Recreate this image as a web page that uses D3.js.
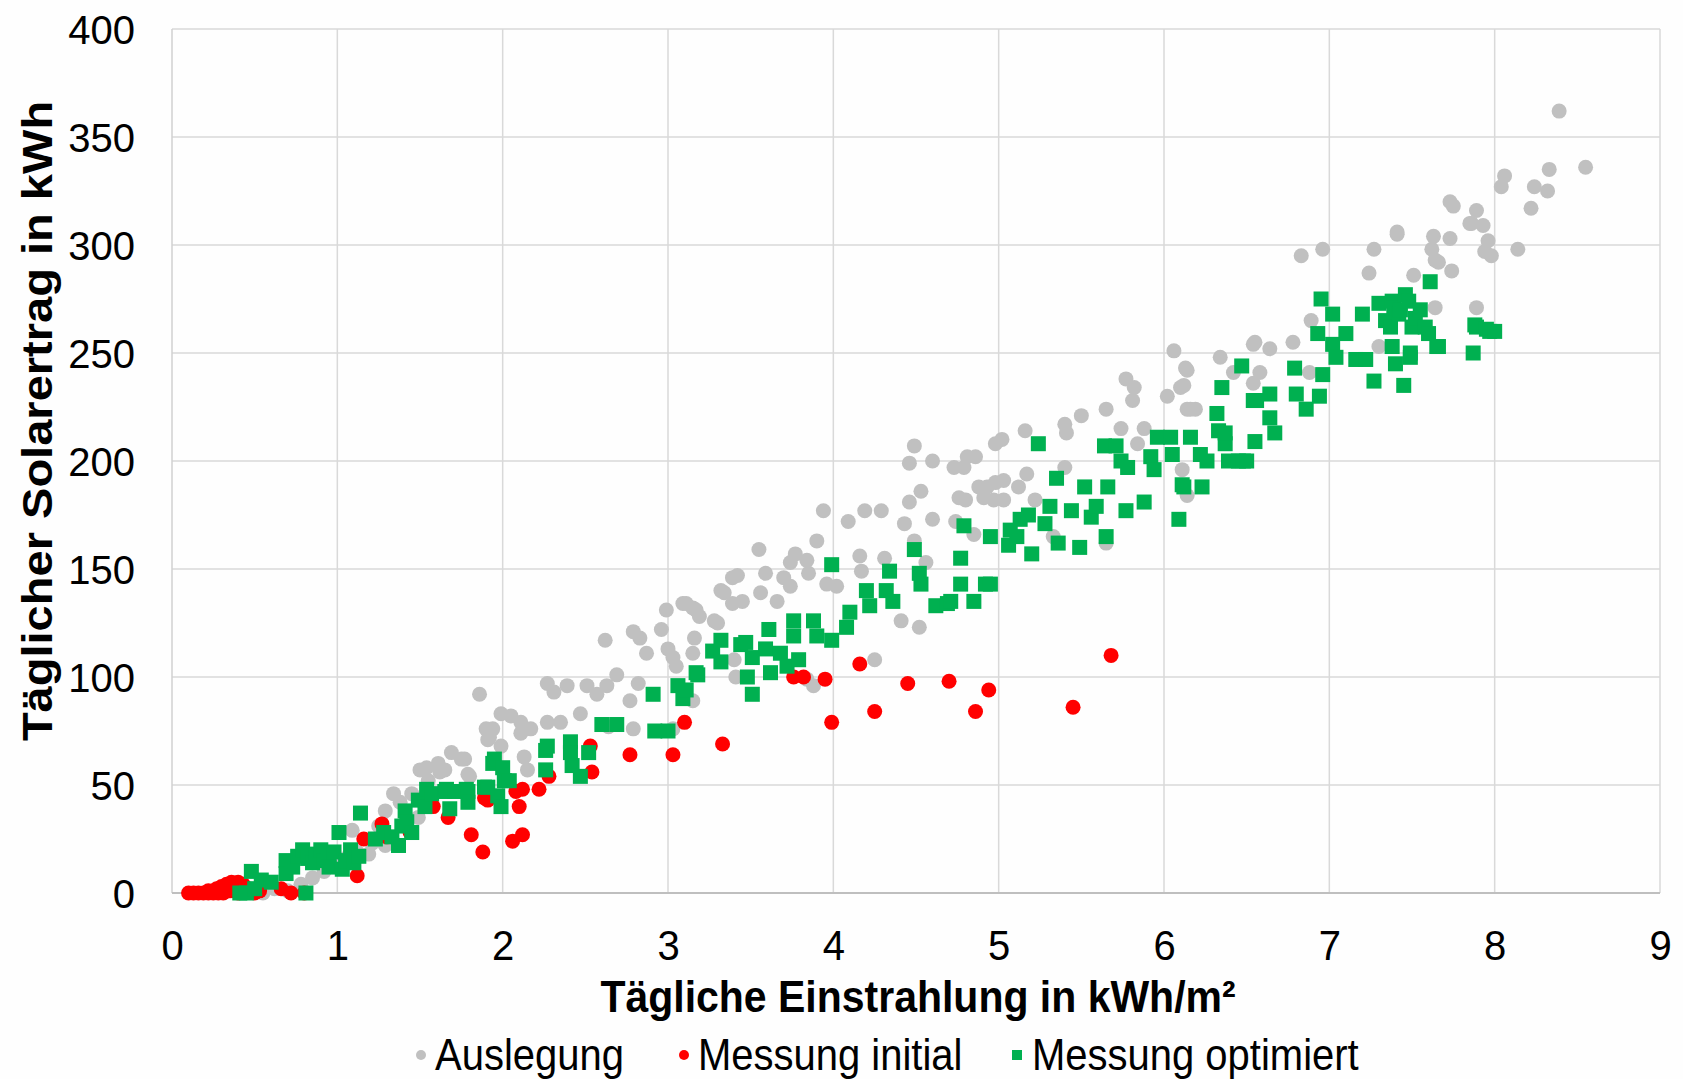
<!DOCTYPE html>
<html><head><meta charset="utf-8">
<script src="https://cdn.jsdelivr.net/npm/d3@7"></script>
<style>body{margin:0;background:#fff} text{font-family:"Liberation Sans",Arial,sans-serif;fill:#000}</style>
</head><body><svg id="c" width="1683" height="1079"></svg>
<script>
// ---- data ----
const xTicks = [0,1,2,3,4,5,6,7,8,9];
const yTicks = [0,50,100,150,200,250,300,350,400];
const seriesNames = ["Auslegung","Messung initial","Messung optimiert"];
const seriesColors = ["#c0c0c0","#ff0000","#00b050"];

const auslegung = [
[0.55,0],[0.62,2],[0.7,1],[0.78,4],[0.85,7],[0.92,10],[1.0,13],[1.05,16],[1.09,29],[1.12,19],[1.19,18],[1.21,23],[1.25,31],[1.29,22],[1.29,38],[1.34,46],[1.38,42],[1.45,46],[1.49,35],[1.5,57],[1.54,58],[1.55,52],[1.61,60],[1.62,56],[1.65,57],[1.69,65],[1.75,62],[1.77,62],[1.79,55],[1.8,54],[1.86,92],[1.9,76],[1.91,71],[1.92,72],[1.94,76],[1.99,83],[1.99,68],[2.05,82],[2.11,79],[2.11,74],[2.13,63],[2.15,57],[2.17,76],[2.27,97],[2.27,79],[2.31,93],[2.35,79],[2.39,96],[2.47,83],[2.51,96],[2.57,92],[2.62,117],[2.63,96],[2.64,77],[2.69,101],[2.77,89],[2.79,76],[2.79,121],[2.82,97],[2.83,118],[2.87,111],[2.96,122],[2.99,131],[3.0,113],[3.03,109],[3.03,76],[3.05,105],[3.09,134],[3.11,134],[3.15,132],[3.15,89],[3.15,111],[3.16,118],[3.17,131],[3.19,128],[3.28,126],[3.3,125],[3.32,140],[3.34,139],[3.39,146],[3.39,134],[3.4,108],[3.41,100],[3.42,147],[3.45,135],[3.55,159],[3.56,139],[3.59,148],[3.66,135],[3.7,146],[3.74,153],[3.74,142],[3.77,157],[3.84,154],[3.84,99],[3.85,148],[3.88,96],[3.9,163],[3.94,177],[3.96,143],[4.02,142],[4.09,172],[4.16,156],[4.17,149],[4.19,177],[4.25,108],[4.29,177],[4.31,155],[4.41,126],[4.43,171],[4.46,181],[4.46,199],[4.49,207],[4.49,163],[4.52,123],[4.53,186],[4.56,153],[4.6,173],[4.6,200],[4.73,197],[4.74,172],[4.76,183],[4.79,197],[4.8,182],[4.81,202],[4.85,166],[4.86,202],[4.88,188],[4.91,183],[4.93,188],[4.97,182],[4.98,208],[4.98,190],[5.02,210],[5.03,191],[5.03,182],[5.12,188],[5.16,214],[5.17,194],[5.22,182],[5.33,165],[5.4,197],[5.4,217],[5.41,213],[5.5,221],[5.65,224],[5.65,162],[5.74,215],[5.77,238],[5.81,228],[5.82,234],[5.84,208],[5.88,215],[6.02,230],[6.06,251],[6.1,234],[6.11,196],[6.12,235],[6.13,243],[6.14,242],[6.14,224],[6.14,184],[6.16,224],[6.19,224],[6.34,248],[6.42,241],[6.54,254],[6.54,236],[6.55,255],[6.58,241],[6.64,252],[6.78,255],[6.83,295],[6.88,241],[6.89,265],[6.96,298],[7.24,287],[7.27,298],[7.3,253],[7.41,306],[7.41,305],[7.51,286],[7.62,298],[7.63,304],[7.64,293],[7.64,271],[7.66,292],[7.73,303],[7.73,320],[7.74,288],[7.75,318],[7.85,310],[7.86,310],[7.89,316],[7.89,271],[7.93,309],[7.94,297],[7.96,302],[7.98,295],[8.04,327],[8.06,332],[8.14,298],[8.22,317],[8.24,327],[8.32,325],[8.33,335],[8.39,362],[8.55,336]
];

const messungInitial = [
[0.1,0],[0.13,0],[0.16,0],[0.19,0],[0.22,0],[0.25,0],[0.28,0],[0.31,0],[0.22,1],[0.27,2],[0.3,3],[0.33,4],[0.36,5],[0.4,5],[0.43,4],[0.46,2],[0.35,1],[0.4,0],[0.5,0],[0.53,1],[0.66,2],[0.72,0],[0.8,0],[1.12,8],[1.16,25],[1.27,32],[1.3,26],[1.44,28],[1.58,40],[1.67,35],[1.81,27],[1.88,19],[1.89,44],[1.91,43],[2.06,24],[2.08,47],[2.1,40],[2.12,27],[2.12,48],[2.22,48],[2.28,54],[2.53,68],[2.54,56],[2.77,64],[3.03,64],[3.1,79],[3.33,69],[3.76,100],[3.82,100],[3.95,99],[3.99,79],[4.16,106],[4.25,84],[4.45,97],[4.7,98],[4.86,84],[4.94,94],[5.45,86],[5.68,110]
];

const messungOptimiert = [
[0.41,0],[0.45,0],[0.5,2],[0.48,10],[0.54,6],[0.6,5],[0.69,15],[0.69,9],[0.73,12],[0.76,17],[0.79,20],[0.81,0],[0.82,16],[0.85,14],[0.87,18],[0.9,20],[0.92,15],[0.95,17],[0.95,12],[0.98,19],[1.01,28],[1.03,11],[1.05,15],[1.08,20],[1.1,14],[1.13,17],[1.14,37],[1.23,25],[1.28,28],[1.33,26],[1.37,22],[1.39,31],[1.41,38],[1.42,33],[1.45,28],[1.49,43],[1.53,40],[1.54,48],[1.57,46],[1.65,47],[1.66,48],[1.68,39],[1.71,47],[1.78,48],[1.79,47],[1.79,42],[1.89,49],[1.91,49],[1.94,60],[1.95,62],[1.97,45],[1.99,40],[2.0,58],[2.01,52],[2.04,52],[2.26,66],[2.26,57],[2.27,68],[2.41,70],[2.41,65],[2.42,59],[2.47,54],[2.52,65],[2.6,78],[2.69,78],[2.91,92],[2.92,75],[3.0,75],[3.06,96],[3.09,90],[3.11,94],[3.17,102],[3.18,101],[3.27,112],[3.32,117],[3.32,107],[3.44,115],[3.47,116],[3.48,100],[3.51,92],[3.51,109],[3.59,113],[3.61,122],[3.62,102],[3.68,111],[3.72,105],[3.76,126],[3.76,119],[3.79,108],[3.88,126],[3.9,119],[3.99,117],[3.99,152],[4.08,123],[4.1,130],[4.2,140],[4.22,133],[4.32,140],[4.34,149],[4.36,135],[4.49,159],[4.52,148],[4.53,143],[4.62,133],[4.69,134],[4.71,135],[4.77,155],[4.77,143],[4.79,170],[4.85,135],[4.92,143],[4.95,165],[4.95,143],[5.06,161],[5.07,168],[5.11,165],[5.13,173],[5.18,175],[5.2,157],[5.24,208],[5.28,171],[5.31,179],[5.35,192],[5.36,162],[5.44,177],[5.49,160],[5.52,188],[5.56,174],[5.59,179],[5.64,207],[5.65,165],[5.66,188],[5.71,207],[5.74,200],[5.77,177],[5.78,197],[5.88,181],[5.92,202],[5.94,196],[5.96,211],[6.04,211],[6.05,203],[6.09,173],[6.11,189],[6.12,188],[6.16,211],[6.22,203],[6.23,188],[6.26,200],[6.32,222],[6.33,214],[6.35,234],[6.37,208],[6.37,213],[6.39,200],[6.45,200],[6.47,244],[6.48,200],[6.5,200],[6.54,228],[6.55,209],[6.56,228],[6.64,231],[6.64,220],[6.67,213],[6.79,243],[6.8,231],[6.86,224],[6.93,259],[6.94,230],[6.95,275],[6.96,240],[7.02,268],[7.02,254],[7.04,248],[7.1,259],[7.16,247],[7.2,268],[7.22,247],[7.27,237],[7.3,273],[7.34,265],[7.37,262],[7.38,253],[7.38,274],[7.39,271],[7.4,245],[7.42,268],[7.43,270],[7.45,235],[7.46,277],[7.48,274],[7.49,250],[7.49,248],[7.5,262],[7.52,266],[7.55,270],[7.58,262],[7.6,259],[7.61,283],[7.65,253],[7.66,253],[7.87,250],[7.88,263],[7.89,262],[7.95,261],[7.97,260],[8.0,260]
];

const xTitle = "Tägliche Einstrahlung in kWh/m²";
const yTitle = "Täglicher Solarertrag in kWh";

// ---- chart ----
const svg = d3.select("#c");
const m = {l:172, r:1660, t:29, b:893};
const x = d3.scaleLinear().domain([0,9]).range([m.l,m.r]);
const y = d3.scaleLinear().domain([0,400]).range([m.b,m.t]);

svg.append("rect").attr("width",1683).attr("height",1079).attr("fill","#fefefe");

// grid
svg.append("g").selectAll("line").data(yTicks.filter(d=>d>0)).join("line")
  .attr("x1",m.l).attr("x2",m.r).attr("y1",d=>y(d)).attr("y2",d=>y(d))
  .attr("stroke","#d9d9d9").attr("stroke-width",1.5);
svg.append("g").selectAll("line").data(xTicks.filter(d=>d>0)).join("line")
  .attr("y1",m.t).attr("y2",m.b).attr("x1",d=>x(d)).attr("x2",d=>x(d))
  .attr("stroke","#d9d9d9").attr("stroke-width",1.5);
// axes lines
svg.append("line").attr("x1",m.l).attr("x2",m.l).attr("y1",m.t).attr("y2",m.b)
  .attr("stroke","#d0d0d0").attr("stroke-width",1.5);
svg.append("line").attr("x1",m.l).attr("x2",m.r).attr("y1",m.b).attr("y2",m.b)
  .attr("stroke","#bfbfbf").attr("stroke-width",2);

// axes labels via d3 axes
const xAxis = d3.axisBottom(x).tickValues(xTicks).tickSize(0).tickPadding(0).tickFormat(d3.format("d"));
const gx = svg.append("g").attr("transform",`translate(0,${m.b})`).call(xAxis);
gx.select(".domain").remove();
gx.selectAll("text").attr("y",0).attr("dy",0).attr("transform","translate(0,67) scale(1,1.05)")
  .style("font-size","40px").style("font-family",'"Liberation Sans",Arial,sans-serif').attr("fill","#111");

const yAxis = d3.axisLeft(y).tickValues(yTicks).tickSize(0).tickPadding(0).tickFormat(d3.format("d"));
const gy = svg.append("g").attr("transform",`translate(${m.l-37},0)`).call(yAxis);
gy.select(".domain").remove();
gy.selectAll("text").attr("x",0).attr("dy","0.36em")
  .style("font-size","40px").style("font-family",'"Liberation Sans",Arial,sans-serif').attr("fill","#111");

// points
const plot = svg.append("g");
plot.append("g").selectAll("circle").data(auslegung).join("circle")
  .attr("cx",d=>x(d[0])).attr("cy",d=>y(d[1])).attr("r",7.5).attr("fill",seriesColors[0]);
plot.append("g").selectAll("circle").data(messungInitial).join("circle")
  .attr("cx",d=>x(d[0])).attr("cy",d=>y(d[1])).attr("r",7.5).attr("fill",seriesColors[1]);
const sq = 15;
plot.append("g").selectAll("rect").data(messungOptimiert).join("rect")
  .attr("x",d=>x(d[0])-sq/2).attr("y",d=>y(d[1])-sq/2).attr("width",sq).attr("height",sq)
  .attr("fill",seriesColors[2]);

// titles
svg.append("text").attr("text-anchor","middle")
  .attr("transform",`translate(${(m.l+m.r)/2+2},1012) scale(1,1.1)`)
  .style("font-size","41px").style("font-weight","bold").text(xTitle);
svg.append("text").attr("text-anchor","middle")
  .attr("transform",`translate(52,421) rotate(-90) scale(1.12,1)`)
  .style("font-size","42px").style("font-weight","bold").text(yTitle);

// legend
const legY = 1055;
const leg = svg.append("g");
const legItems = [
  {name:seriesNames[0], color:seriesColors[0], shape:"circle", mx:421, tx:435},
  {name:seriesNames[1], color:seriesColors[1], shape:"circle", mx:684, tx:698},
  {name:seriesNames[2], color:seriesColors[2], shape:"square", mx:1017, tx:1032}
];
legItems.forEach(it=>{
  if(it.shape==="circle") leg.append("circle").attr("cx",it.mx).attr("cy",legY).attr("r",5).attr("fill",it.color);
  else leg.append("rect").attr("x",it.mx-5).attr("y",legY-5).attr("width",10).attr("height",10).attr("fill",it.color);
  leg.append("text").attr("transform",`translate(${it.tx},${legY+15}) scale(1,1.1)`)
    .style("font-size","40px").text(it.name);
});
</script></body></html>
